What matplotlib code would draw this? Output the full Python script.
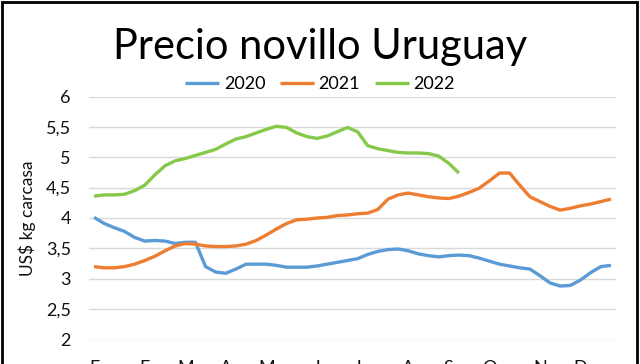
import numpy as np
import matplotlib
matplotlib.use("Agg")
import matplotlib.pyplot as plt
from matplotlib.patches import Rectangle

plt.rcParams['font.family'] = ['Lato', 'DejaVu Sans']

# Weekly prices (US$/kg carcass)
precio_2020 = [4.01, 3.91, 3.84, 3.78, 3.68, 3.62, 3.63, 3.62, 3.58, 3.60,
               3.60, 3.20, 3.11, 3.09, 3.16, 3.24, 3.24, 3.24, 3.22, 3.19,
               3.19, 3.19, 3.21, 3.24, 3.27, 3.30, 3.33, 3.40, 3.45, 3.48,
               3.49, 3.46, 3.41, 3.38, 3.36, 3.38, 3.39, 3.38, 3.34, 3.29,
               3.24, 3.21, 3.18, 3.16, 3.05, 2.93, 2.88, 2.89, 2.98, 3.10,
               3.20, 3.22]
precio_2021 = [3.20, 3.18, 3.18, 3.20, 3.24, 3.30, 3.37, 3.46, 3.54, 3.58,
               3.57, 3.54, 3.53, 3.53, 3.54, 3.57, 3.63, 3.72, 3.82, 3.91,
               3.97, 3.98, 4.00, 4.01, 4.04, 4.05, 4.07, 4.08, 4.14, 4.31,
               4.38, 4.41, 4.38, 4.35, 4.33, 4.32, 4.36, 4.42, 4.49, 4.61,
               4.74, 4.74, 4.54, 4.35, 4.27, 4.19, 4.13, 4.16, 4.20, 4.23,
               4.27, 4.31]
precio_2022 = [4.36, 4.38, 4.38, 4.39, 4.45, 4.54, 4.71, 4.86, 4.94, 4.98,
               5.03, 5.08, 5.13, 5.22, 5.30, 5.34, 5.40, 5.46, 5.51, 5.49,
               5.40, 5.34, 5.31, 5.35, 5.42, 5.49, 5.42, 5.19, 5.14, 5.11,
               5.08, 5.07, 5.07, 5.06, 5.02, 4.90, 4.74]

meses = ['E', 'F', 'M', 'A', 'M', 'J', 'J', 'A', 'S', 'O', 'N', 'D']
semana_mes = [0, 5, 9, 13, 17, 22, 26, 31, 35, 39, 44, 48]
y_ticks = [2, 2.5, 3, 3.5, 4, 4.5, 5, 5.5, 6]

fig = plt.figure(figsize=(6.4, 3.64), dpi=100)
ax = fig.add_axes([89 / 640, 24.5 / 364, 527 / 640, 243 / 364])

series = [('2020', precio_2020, '#5B9BD5'),
          ('2021', precio_2021, '#ED7D31'),
          ('2022', precio_2022, '#86C94A')]
for nombre, vals, col in series:
    ax.plot(np.arange(len(vals)), vals, color=col, lw=2.4, label=nombre,
            solid_capstyle='butt')

ax.set_xlim(-0.5, 51.5)
ax.set_ylim(2, 6)
ax.set_yticks(y_ticks)
ax.set_yticklabels([('%g' % v).replace('.', ',') for v in y_ticks])
ax.set_xticks(semana_mes)
ax.set_xticklabels(meses)
ax.grid(axis='y', color='#d9d9d9', lw=1)
ax.set_axisbelow(True)
for s in ax.spines.values():
    s.set_visible(False)
ax.tick_params(axis='both', length=0, labelsize=13, colors='#111111')
ax.tick_params(axis='y', pad=13)
ax.tick_params(axis='x', pad=15)
ax.set_ylabel('US$ kg carcasa', fontsize=12.5, color='#111111', labelpad=7)

fig.text(0.5, 1 - 59 / 364, 'Precio novillo Uruguay',
         ha='center', va='baseline', fontsize=30, color='#000000')
fig.legend(loc='center', bbox_to_anchor=(0.5, 1 - 84 / 364), ncol=3,
           frameon=False, fontsize=13, handlelength=1.9, handletextpad=0.25,
           columnspacing=0.8)

fig.patches.append(Rectangle((1.5 / 640, -0.1), 635 / 640, 1.1 - 2.5 / 364,
                             transform=fig.transFigure, fill=False,
                             edgecolor='black', lw=2))

fig.savefig('out.png', dpi=100)
